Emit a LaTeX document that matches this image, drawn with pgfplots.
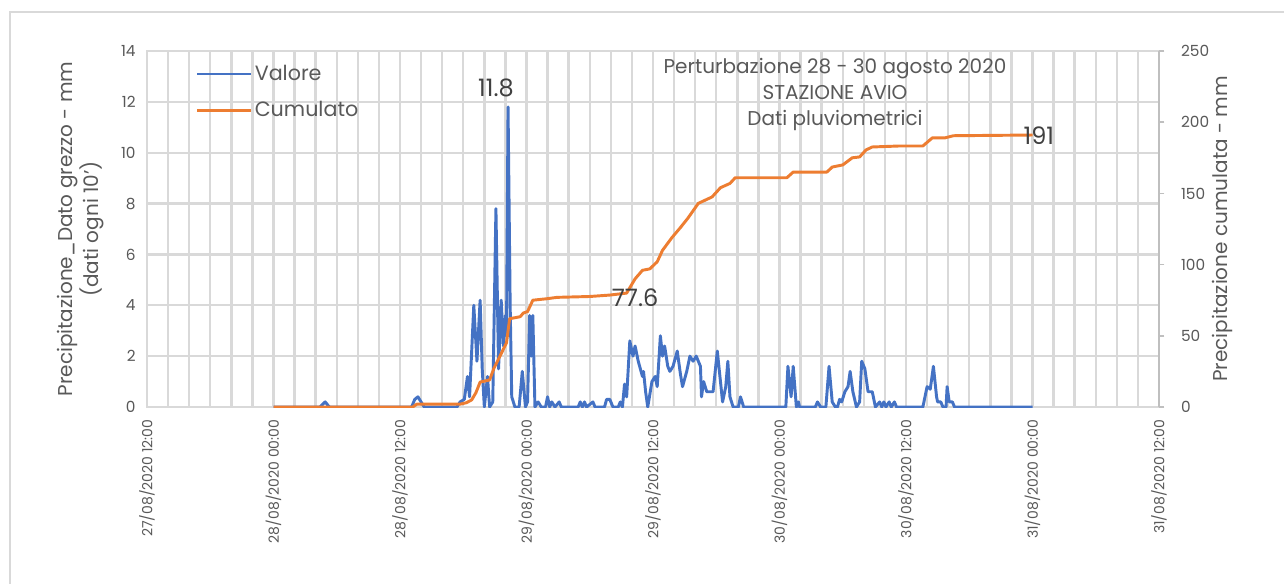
\documentclass[border=0pt]{standalone}
\usepackage{fontspec}
\setmainfont{Poppins}
\usepackage{pgfplots}
\usepackage{pgfplotstable}
\pgfplotsset{compat=1.18}
\definecolor{cblue}{HTML}{4472C4}
\definecolor{corange}{HTML}{ED7D31}
\definecolor{gridc}{HTML}{D9D9D9}
\definecolor{txt}{HTML}{595959}
\definecolor{lbl}{HTML}{404040}
\definecolor{axc}{HTML}{BFBFBF}

% hours from 27/08/2020 12:00
\pgfplotstableread{
h v
12.0 0
16.4 0
16.9 0.2
17.3 0
25.1 0
25.4 0.3
25.7 0.4
26.0 0.2
26.3 0
29.4 0
29.7 0.2
30.1 0.3
30.4 1.2
30.6 0.4
31.0 4.0
31.3 1.8
31.6 4.2
31.8 1.5
32.0 0
32.3 1.2
32.5 0
32.8 0.2
33.1 7.8
33.35 1.5
33.6 4.2
33.8 2.4
34.0 3.6
34.1 2.8
34.25 11.8
34.45 4.0
34.6 0.4
34.9 0
35.3 0
35.6 1.4
35.9 0
36.1 0.2
36.3 3.6
36.45 2.0
36.6 3.6
36.8 0
37.1 0.2
37.4 0
37.8 0
38.0 0.4
38.2 0
38.4 0.2
38.7 0
39.1 0.2
39.3 0
40.9 0
41.1 0.2
41.3 0
41.5 0.2
41.7 0
42.3 0.2
42.5 0
43.4 0
43.6 0.3
43.9 0.3
44.2 0
44.7 0
44.9 0.2
45.1 0
45.3 0.9
45.5 0.4
45.8 2.6
46.1 2.0
46.3 2.4
46.6 1.8
47.0 1.2
47.1 1.4
47.3 0.6
47.5 0
47.9 1.0
48.2 1.2
48.4 0.8
48.7 2.8
48.9 2.0
49.1 2.4
49.4 1.6
49.6 1.4
49.9 1.6
50.3 2.2
50.6 1.3
50.8 0.8
51.2 1.4
51.5 2.0
51.8 1.8
52.1 2.0
52.5 1.6
52.6 0.4
52.8 1.0
53.1 0.6
53.7 0.6
54.1 2.2
54.4 1.0
54.6 0.2
54.9 0.8
55.1 1.8
55.3 0.4
55.6 0
56.1 0
56.3 0.4
56.6 0
60.6 0
60.8 1.6
61.1 0.4
61.3 1.6
61.6 0
61.8 0.2
61.9 0
63.4 0
63.6 0.2
63.9 0
64.4 0
64.7 1.6
65.0 0.2
65.3 0
65.5 0
65.7 0.3
65.9 0.2
66.2 0.6
66.5 0.8
66.7 1.4
66.96 0.6
67.3 0
67.6 0.2
67.8 1.8
68.1 1.5
68.4 0.6
68.8 0.6
69.1 0
69.5 0.2
69.7 0
69.9 0.2
70.1 0
70.4 0.2
70.6 0
70.9 0.2
71.1 0
73.6 0
74.0 0.8
74.3 0.7
74.6 1.6
74.9 0.4
75.0 0.2
75.3 0.2
75.5 0
75.8 0
75.9 0.8
76.1 0.2
76.4 0.2
76.6 0
84.0 0
}\valore

\pgfplotstableread{
h c
12.0 0
25.2 0
25.6 2
29.7 2
30.3 3
30.8 5
31.2 10
31.6 17.5
32.5 19
32.9 27
33.5 36
34.1 45
34.4 62
35.4 63.4
35.7 66
36.1 67
36.6 75
37.9 76
38.9 77
42.0 77.6
43.9 78.6
45.5 80
46.3 90
47.0 96
47.7 97
48.4 102
48.9 110
49.8 119
50.6 126
51.3 132.5
52.3 143
53.6 147.5
54.4 154
55.3 157
55.8 161
60.7 161
61.3 165
64.5 165
65.0 168.5
66.0 170
66.9 175
67.6 175.6
68.2 180.5
68.8 182.6
71.4 183.3
73.6 183.3
74.5 189
75.7 189
76.5 190.5
84.0 191
}\cumulato

\begin{document}
\begin{tikzpicture}
\useasboundingbox (0,0) rectangle (963pt,-438pt);
\fill[white] (0,0) rectangle (963pt,-438pt);
\draw[gridc, line width=1.2pt] (7.5pt,-9pt) rectangle (1000pt,-500pt);

\begin{axis}[
  at={(110.25pt,-305.25pt)}, anchor=south west,
  scale only axis, width=759pt, height=267pt,
  xmin=0, xmax=96, ymin=0, ymax=14,
  xtick={0,12,...,96},
  xticklabels={27/08/2020 12:00,28/08/2020 00:00,28/08/2020 12:00,29/08/2020 00:00,29/08/2020 12:00,30/08/2020 00:00,30/08/2020 12:00,31/08/2020 00:00,31/08/2020 12:00},
  minor x tick num=5,
  ytick={0,2,...,14},
  grid=both,
  major grid style={draw=gridc, line width=1.8pt},
  minor grid style={draw=gridc, line width=1.8pt},
  axis line style={draw=gridc, line width=1.8pt},
  major tick length=0pt, minor tick length=0pt,
  tick style={draw=none},
  /pgf/number format/assume math mode=true,
  xticklabel shift=6pt,
  xticklabel style={rotate=90, anchor=east, font=\fontsize{10.5}{12}\selectfont, text=txt},
  yticklabel style={font=\fontsize{11.5}{13}\selectfont, text=txt, xshift=-5pt},
  ylabel={Precipitazione\_Dato grezzo - mm\\(dati ogni 10')},
  ylabel style={at={(axis description cs:-0.0657,0.5)}, anchor=center, rotate=0, align=center, font=\fontsize{15}{19}\selectfont, text=txt},
]
\addplot[cblue, line width=2.2pt, line join=round] table[x=h, y=v] {\valore};
\node[font=\fontsize{18}{20}\selectfont, text=lbl] at (axis cs:33.1,12.54) {11.8};
\end{axis}

\begin{axis}[
  at={(110.25pt,-305.25pt)}, anchor=south west,
  scale only axis, width=759pt, height=267pt,
  xmin=0, xmax=96, ymin=0, ymax=250,
  axis x line=none, axis y line*=right,
  ytick={0,50,...,250},
  y axis line style={draw=axc, line width=1.2pt},
  ytick style={draw=axc, line width=1.2pt},
  tick align=outside, major tick length=4pt,
  /pgf/number format/assume math mode=true,
  yticklabel style={font=\fontsize{11.5}{13}\selectfont, text=txt, xshift=9pt},
  ylabel={Precipitazione cumulata - mm},
  ylabel style={at={(axis description cs:1.0623,0.5)}, anchor=center, rotate=0, font=\fontsize{15}{19}\selectfont, text=txt},
  legend style={at={(axis description cs:0.048,0.968)}, anchor=north west, draw=none, fill=none,
    font=\fontsize{15.5}{17}\selectfont, text=txt, row sep=10.3pt, inner sep=0pt},
  legend cell align=left,
  legend image code/.code={\draw[#1] (0pt,0pt) -- (40pt,0pt);},
]
\addlegendimage{cblue, line width=2.2pt}
\addlegendentry{Valore}
\addplot[corange, line width=2.2pt, line join=round] table[x=h, y=c] {\cumulato};
\addlegendentry{Cumulato}
\node[font=\fontsize{18}{20}\selectfont, text=lbl] at (axis cs:46.3,76.5) {77.6};
\node[font=\fontsize{18}{20}\selectfont, text=lbl] at (axis cs:84.6,190.3) {191};
\end{axis}

\node[align=center, font=\fontsize{15}{19.5}\selectfont, text=txt] at (626.25pt,-70.5pt) {Perturbazione 28 - 30 agosto 2020\\STAZIONE AVIO\\Dati pluviometrici};
\end{tikzpicture}
\end{document}
